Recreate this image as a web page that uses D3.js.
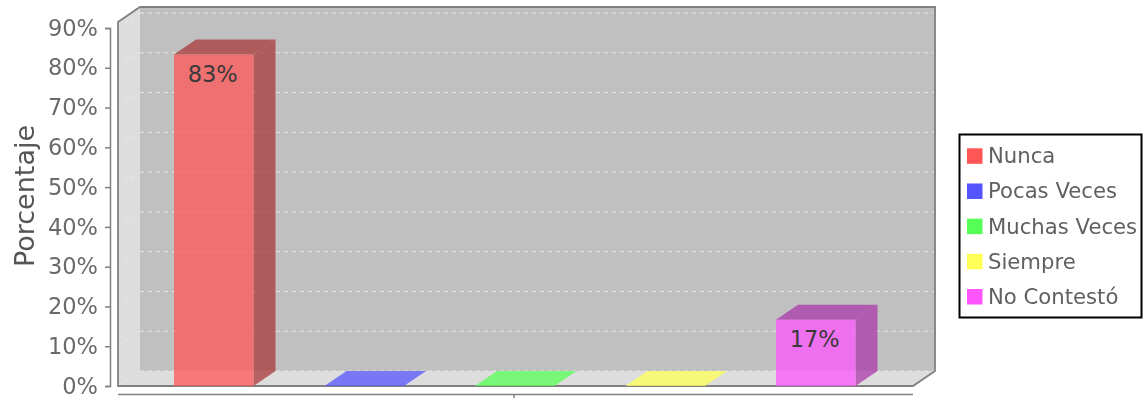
<!DOCTYPE html>
<html><head><meta charset="utf-8">
<script src="https://cdn.jsdelivr.net/npm/d3@7/dist/d3.min.js"></script>
<style>html,body{margin:0;background:#fff;overflow:hidden}svg{display:block;filter:blur(.6px)}text{font-family:"DejaVu Sans",sans-serif}</style>
</head><body><svg id="c" width="1147" height="398"></svg>
<script>
const categories=["Nunca","Pocas Veces","Muchas Veces","Siempre","No Contestó"];
const values=[83.33,0,0,0,16.67];
const labels=["83%","","","","17%"];
const colors=["#ff5555","#5555ff","#55ff55","#ffff55","#ff55ff"];
const yTicks=[0,10,20,30,40,50,60,70,80,90];
const svg=d3.select("#c");
const dx=22,dy=15;
const y=d3.scaleLinear().domain([0,90]).range([386,28]);
const x=d3.scaleBand().domain(categories).range([138.5,891]).paddingInner(0).paddingOuter(0);
const bw=79.5, barX=c=>x(c)+x.bandwidth()/2-bw/2;
const L=118,R=913,B=386,T=22;
const poly=p=>p.map(a=>a.join(",")).join(" ");
// walls
svg.append("polygon").attr("points",poly([[L,B],[L,T],[L+dx,T-dy],[R+dx,T-dy],[R+dx,B-dy],[R,B]])).attr("fill","#dddddd");
svg.append("rect").attr("x",L+dx).attr("y",T-dy).attr("width",R-L).attr("height",B-T).attr("fill","#c0c0c0");
// grid
const grid=svg.append("g");
grid.selectAll("line.b").data(yTicks).join("line").attr("class","b")
 .attr("x1",L+dx).attr("x2",R+dx).attr("y1",d=>y(d)-dy).attr("y2",d=>y(d)-dy)
 .attr("stroke","#e4e4e4").attr("stroke-width",1).attr("stroke-dasharray","4 4");
grid.selectAll("line.s").data(yTicks).join("line").attr("class","s")
 .attr("x1",L).attr("x2",L+dx).attr("y1",d=>y(d)).attr("y2",d=>y(d)-dy)
 .attr("stroke","#ebebeb").attr("stroke-width",1).attr("stroke-dasharray","4 4");
// outline
svg.append("polygon").attr("points",poly([[L,B],[L,T],[L+dx,T-dy],[R+dx,T-dy],[R+dx,B-dy],[R,B]])).attr("fill","none").attr("stroke","#808080").attr("stroke-width",1.8);
// bars
const g=svg.selectAll("g.bar").data(categories).join("g").attr("class","bar");
const alpha=.75,dk=1.12;
g.append("polygon").attr("points",(c,i)=>{const a=barX(c),t=y(values[i]);return poly([[a+bw,B],[a+bw,t],[a+bw+dx,t-dy],[a+bw+dx,B-dy]]);})
 .attr("fill",(c,i)=>d3.color(colors[i]).darker(dk)).attr("fill-opacity",alpha);
g.append("polygon").attr("points",(c,i)=>{const a=barX(c),t=y(values[i]);return poly([[a,t],[a+dx,t-dy],[a+bw+dx,t-dy],[a+bw,t]]);})
 .attr("fill",(c,i)=>values[i]>0?d3.color(colors[i]).darker(dk):colors[i]).attr("fill-opacity",alpha);
g.append("rect").attr("x",barX).attr("y",(c,i)=>y(values[i])).attr("width",bw).attr("height",(c,i)=>B-y(values[i]))
 .attr("fill",(c,i)=>colors[i]).attr("fill-opacity",alpha);
g.append("text").attr("x",c=>barX(c)+bw/2-1).attr("y",(c,i)=>y(values[i])+27).attr("text-anchor","middle")
 .attr("font-size",22.5).attr("fill","#3a3a3a").text((c,i)=>labels[i]);
// y axis
const ya=svg.append("g").attr("transform","translate(110,0)").call(d3.axisLeft(y).tickValues(yTicks).tickFormat(d=>d+"%").tickSize(5).tickPadding(7));
ya.select("path").attr("stroke","#808080").attr("stroke-width",1.5);
ya.selectAll("line").attr("stroke","#808080").attr("stroke-width",1.5);
ya.selectAll("text").attr("font-size",22.5).attr("fill","#6a6a6a").style("font-family","'DejaVu Sans',sans-serif");
// x axis
const xa=d3.scalePoint().domain(["c"]).range([514,514]);
const xg=svg.append("g").attr("transform","translate(0,394.5)");
xg.append("line").attr("x1",L).attr("x2",R).attr("stroke","#808080").attr("stroke-width",1.5);
xg.append("line").attr("x1",xa("c")).attr("x2",xa("c")).attr("y1",0).attr("y2",4).attr("stroke","#808080").attr("stroke-width",1.5);
// title
svg.append("text").attr("transform","translate(34,196) rotate(-90)").attr("text-anchor","middle").attr("font-size",27).attr("fill","#555").text("Porcentaje");
// legend
svg.append("rect").attr("x",959.5).attr("y",134.5).attr("width",182).attr("height",183).attr("fill","#fff").attr("stroke","#000").attr("stroke-width",2);
const ly=d3.scalePoint().domain(categories).range([156.3,297]);
const lg=svg.selectAll("g.leg").data(categories).join("g").attr("class","leg").attr("transform",c=>`translate(0,${ly(c)})`);
lg.append("rect").attr("x",967).attr("y",-8).attr("width",15.5).attr("height",15.5).attr("fill",(c,i)=>colors[i]);
lg.append("text").attr("x",988).attr("y",7).attr("font-size",21.2).attr("fill","#606060").text(c=>c);
</script></body></html>
